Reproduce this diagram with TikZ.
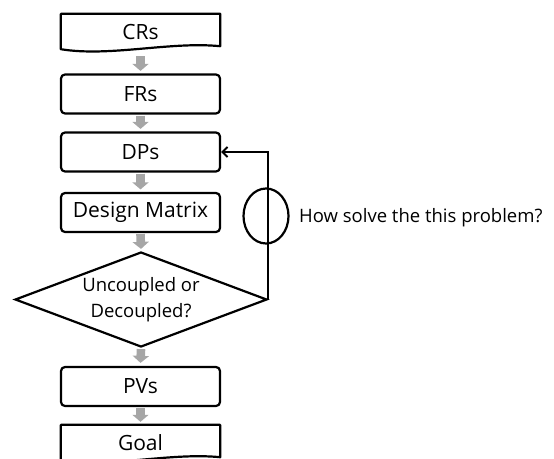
\documentclass[tikz,border=0pt]{standalone}
\usepackage{fontspec}
\setmainfont{Open Sans}
\usetikzlibrary{shapes.geometric,arrows.meta}
\definecolor{arrowgray}{RGB}{166,166,166}
\begin{document}
\begin{tikzpicture}[x=1pt,y=-1pt,
  box/.style={draw,line width=2.2pt,rounded corners=4pt,minimum width=159pt,minimum height=39pt,inner sep=0pt,font=\fontsize{21}{25}\selectfont,fill=white},
  docbox/.style={minimum width=159pt,minimum height=35pt,inner sep=0pt,font=\fontsize{21}{25}\selectfont},
  docline/.style={line width=2.2pt,line join=round},
  garrow/.style={arrowgray,line width=8.6pt,-{Triangle[length=7pt,width=16pt]}},
  fback/.style={line width=2.2pt,-{Straight Barb[length=5pt,width=10pt,line width=2pt]}}]
\useasboundingbox (0,0) rectangle (554,458);
\node[docbox] (CRs) at (140.5,31.5) {CRs};
\node[box] (FRs) at (140.5,94) {FRs};
\node[box] (DPs) at (140.5,152) {DPs};
\node[box] (DM) at (140.5,212.5) {Design Matrix};
\node[diamond,draw,line width=2.2pt,minimum width=252pt,minimum height=95pt,aspect=2.65,inner sep=0pt,align=center,font=\fontsize{18.5}{26}\selectfont] (dia) at (141,299.5) {Uncoupled or\\Decoupled?};
\node[box] (PVs) at (140.5,386.5) {PVs};
\node[docbox] (Goal) at (140.5,442.5) {Goal};
% document shapes
\draw[docline] (CRs.south west) -- (CRs.north west) -- (CRs.north east) -- ([yshift=3pt]CRs.south east)
  .. controls ([xshift=-50pt,yshift=8pt]CRs.south east) and ([xshift=49pt,yshift=-8pt]CRs.south west) .. (CRs.south west) -- cycle;
\draw[docline] (Goal.south west) -- (Goal.north west) -- (Goal.north east) -- ([yshift=3pt]Goal.south east)
  .. controls ([xshift=-50pt,yshift=8pt]Goal.south east) and ([xshift=49pt,yshift=-8pt]Goal.south west) .. (Goal.south west) -- cycle;
% block arrows
\draw[garrow] ([yshift=-7pt]CRs.south) -- ([yshift=2.5pt]FRs.north);
\draw[garrow] ([yshift=-1pt]FRs.south) -- ([yshift=2.5pt]DPs.north);
\draw[garrow] ([yshift=-1pt]DPs.south) -- ([yshift=2.5pt]DM.north);
\draw[garrow] ([yshift=-1pt]DM.south) -- ([yshift=2pt]dia.north);
\draw[garrow] ([yshift=-1pt]dia.south) -- ([yshift=3pt]PVs.north);
\draw[garrow] ([yshift=-1pt]PVs.south) -- ([yshift=3pt]Goal.north);
% feedback
\draw[fback] (dia.east) |- (DPs.east);
\node[ellipse,draw,line width=2.2pt,minimum width=45pt,minimum height=55pt,inner sep=0pt] (ell) at (266,216) {};
\node[anchor=west,font=\fontsize{18.5}{22}\selectfont,inner sep=0pt] (q) at (299,218) {How solve the this problem?};
\end{tikzpicture}
\end{document}
